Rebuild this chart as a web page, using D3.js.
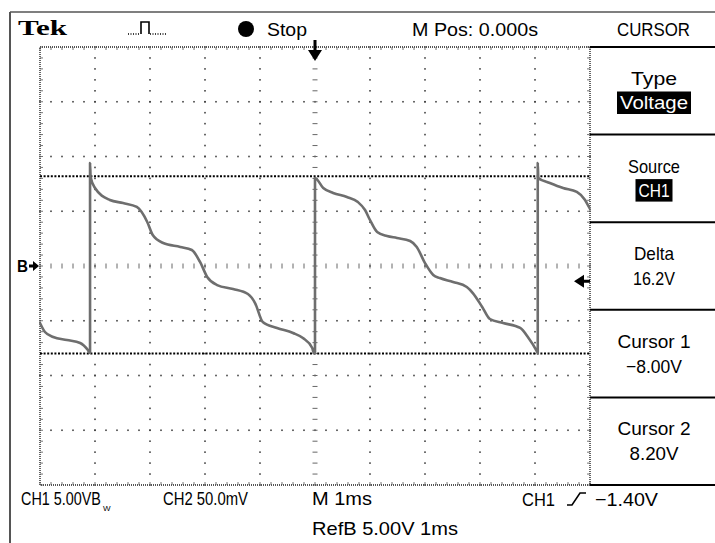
<!DOCTYPE html>
<html>
<head>
<meta charset="utf-8">
<script src="https://cdn.jsdelivr.net/npm/d3@7/dist/d3.min.js"></script>
<style>
  html, body { margin: 0; padding: 0; background: #fff; }
  svg { display: block; }
  text { font-family: "Liberation Sans", Arial, sans-serif; fill: #000; }
</style>
</head>
<body>
<svg id="scope" width="715" height="543"></svg>
<script>
// ---- data ----
// trace of CH1: time in ms (0 = trigger), voltage in V
const traceTime = [-5.00,-4.91,-4.76,-4.51,-4.27,-4.13,-4.09,-4.09,-4.08,-4.00,-3.73,-3.49,-3.24,-3.05,-2.95,-2.76,-2.45,-2.24,-2.09,-1.96,-1.78,-1.49,-1.22,-1.09,-0.95,-0.69,-0.40,-0.22,-0.05,-0.02,0.00,0.00,0.15,0.33,0.58,0.78,0.91,1.00,1.13,1.31,1.49,1.73,1.85,2.00,2.15,2.27,2.51,2.76,2.87,3.04,3.18,3.42,3.73,3.87,4.04,4.05,4.05,4.06,4.27,4.51,4.76,4.91,4.98,5.00];
const traceVolts = [-5.21,-6.03,-6.48,-6.76,-7.03,-7.67,-7.95,9.41,8.13,7.12,6.03,5.75,5.39,4.02,2.83,2.10,1.74,1.46,0.37,-1.00,-1.74,-2.10,-2.56,-3.38,-5.11,-5.66,-6.12,-6.58,-7.49,-7.95,-7.95,8.04,7.12,6.67,6.30,5.84,5.11,4.20,3.11,2.74,2.56,2.28,1.74,0.27,-0.82,-1.10,-1.46,-1.92,-2.47,-3.74,-4.84,-5.21,-5.66,-6.48,-7.85,-7.95,9.41,8.04,7.58,7.12,6.76,6.03,5.39,5.21];
const cursorVolts = [-8.00, 8.20];
const triggerLevel = -1.40;
const timeDomain = [-5, 5];      // 1 ms/div, 10 div
const voltDomain = [-20, 20];    // 5 V/div, 8 div
const menuTitles = ["Type", "Source", "Delta", "Cursor 1", "Cursor 2"];
const menuValues = ["Voltage", "CH1", "16.2V", "\u22128.00V", "8.20V"];
const menuInverse = [true, true, false, false, false];
const topLabels = ["Stop", "M Pos: 0.000s", "CURSOR"];
const bottomLabels = ["CH2 50.0mV", "M 1ms", "CH1", "\u22121.40V", "RefB 5.00V 1ms"];

// ---- layout ----
const svg = d3.select("#scope");
const gx0 = 40, gx1 = 590, gy0 = 47, gy1 = 485;
const x = d3.scaleLinear().domain(timeDomain).range([gx0, gx1]);
const y = d3.scaleLinear().domain(voltDomain).range([gy1, gy0]);
const FS = 18.5;

// frame lines
svg.append("line").attr("x1", 10).attr("x2", 715).attr("y1", 12).attr("y2", 12)
  .attr("stroke", "#000").attr("stroke-width", 1.2);
svg.append("line").attr("x1", 10).attr("x2", 10).attr("y1", 12).attr("y2", 543)
  .attr("stroke", "#555").attr("stroke-width", 2);

// ---- graticule ----
const grid = svg.append("g");
const minorT = d3.range(timeDomain[0], timeDomain[1] + 1e-9, 0.2);
const minorV = d3.range(voltDomain[0], voltDomain[1] + 1e-9, 1);
const majorT = x.ticks(10).filter(t => t !== 0 && t !== timeDomain[0] && t !== timeDomain[1]);
const majorV = d3.range(voltDomain[0], voltDomain[1] + 1e-9, 5).filter(v => v !== 0 && v !== voltDomain[0] && v !== voltDomain[1]);

majorT.forEach(t => {
  grid.selectAll(null).data(minorV).enter().append("rect")
    .attr("x", x(t) - 0.8).attr("y", d => y(d) - 0.8).attr("width", 1.6).attr("height", 1.6)
    .attr("fill", "#444");
});
majorV.forEach(v => {
  grid.selectAll(null).data(minorT).enter().append("rect")
    .attr("x", d => x(d) - 0.8).attr("y", y(v) - 0.8).attr("width", 1.6).attr("height", 1.6)
    .attr("fill", "#444");
});
grid.selectAll(null).data(minorT).enter().append("line")
  .attr("x1", d => x(d)).attr("x2", d => x(d)).attr("y1", y(0) - 2.5).attr("y2", y(0) + 2.5)
  .attr("stroke", "#666").attr("stroke-width", 1);
grid.selectAll(null).data(minorV).enter().append("line")
  .attr("x1", x(0) - 2.5).attr("x2", x(0) + 2.5).attr("y1", d => y(d)).attr("y2", d => y(d))
  .attr("stroke", "#666").attr("stroke-width", 1);
grid.selectAll(null).data(minorT).enter().append("line")
  .attr("x1", d => x(d)).attr("x2", d => x(d)).attr("y1", gy0).attr("y2", gy0 + 3)
  .attr("stroke", "#777").attr("stroke-width", 1);
grid.selectAll(null).data(minorT).enter().append("line")
  .attr("x1", d => x(d)).attr("x2", d => x(d)).attr("y1", gy1).attr("y2", gy1 - 3)
  .attr("stroke", "#777").attr("stroke-width", 1);
grid.selectAll(null).data(minorV).enter().append("line")
  .attr("x1", gx0).attr("x2", gx0 + 3).attr("y1", d => y(d)).attr("y2", d => y(d))
  .attr("stroke", "#777").attr("stroke-width", 1);
grid.selectAll(null).data(minorV).enter().append("line")
  .attr("x1", gx1).attr("x2", gx1 - 3).attr("y1", d => y(d)).attr("y2", d => y(d))
  .attr("stroke", "#777").attr("stroke-width", 1);
grid.append("rect").attr("x", gx0).attr("y", gy0).attr("width", gx1 - gx0).attr("height", gy1 - gy0)
  .attr("fill", "none").attr("stroke", "#555").attr("stroke-width", 1.8).attr("stroke-dasharray", "1,1");

// ---- cursors ----
svg.selectAll(".cursor").data(cursorVolts).enter().append("line").attr("class", "cursor")
  .attr("x1", gx0).attr("x2", gx1).attr("y1", d => y(d)).attr("y2", d => y(d))
  .attr("stroke", "#000").attr("stroke-width", 2).attr("stroke-dasharray", "2,1.6");

// ---- trace ----
const pts = traceTime.map((t, i) => [t, traceVolts[i]]);
svg.append("path").datum(pts)
  .attr("d", d3.line().curve(d3.curveMonotoneX).x(d => x(d[0])).y(d => y(d[1])))
  .attr("fill", "none").attr("stroke", "#6e6e6e").attr("stroke-width", 2.6)
  .attr("stroke-linejoin", "round");

// ---- markers ----
const tx = x(0);
svg.append("path")
  .attr("d", `M${tx - 1.5},40 H${tx + 1.5} V50 H${tx + 7} L${tx},61 L${tx - 7},50 H${tx - 1.5} Z`)
  .attr("fill", "#000");
const ty = y(triggerLevel);
svg.append("path")
  .attr("d", `M574,${ty} L584,${ty - 6.5} V${ty - 1.5} H590 V${ty + 1.5} H584 V${ty + 6.5} Z`)
  .attr("fill", "#000");
const ry = y(0);
svg.append("text").attr("x", 17).attr("y", ry + 6).attr("font-size", 16).attr("font-weight", "bold")
  .attr("textLength", 11).attr("lengthAdjust", "spacingAndGlyphs").text("B");
svg.append("path")
  .attr("d", `M29,${ry - 1.5} H33 V${ry - 5} L39,${ry} L33,${ry + 5} V${ry + 1.5} H29 Z`)
  .attr("fill", "#000");

// ---- top status bar ----
svg.append("text").attr("x", 18).attr("y", 35)
  .style("font-family", "'Liberation Serif', serif").attr("font-weight", "bold").attr("font-size", 21)
  .attr("textLength", 49).attr("lengthAdjust", "spacingAndGlyphs").text("Tek");
svg.append("path").attr("d", "M141,34 V22 H149 V34").attr("fill", "none").attr("stroke", "#000").attr("stroke-width", 1.6);
svg.append("line").attr("x1", 128).attr("x2", 140).attr("y1", 34).attr("y2", 34)
  .attr("stroke", "#000").attr("stroke-width", 1.4).attr("stroke-dasharray", "1,1.5");
svg.append("line").attr("x1", 150).attr("x2", 167).attr("y1", 34).attr("y2", 34)
  .attr("stroke", "#000").attr("stroke-width", 1.4).attr("stroke-dasharray", "1,1.5");
svg.append("circle").attr("cx", 246).attr("cy", 29).attr("r", 8).attr("fill", "#000");
const topX = [267, 412, 617], topW = [40, 126, 73];
topLabels.forEach((s, i) => {
  svg.append("text").attr("x", topX[i]).attr("y", 36).attr("font-size", FS)
    .attr("textLength", topW[i]).attr("lengthAdjust", "spacingAndGlyphs").text(s);
});

// ---- right menu ----
const boxTop = d3.scaleLinear().domain([0, 5]).range([gy0, gy1]);
const menu = svg.append("g");
d3.range(6).forEach(i => {
  menu.append("line").attr("x1", gx1).attr("x2", 715).attr("y1", boxTop(i)).attr("y2", boxTop(i))
    .attr("stroke", "#000").attr("stroke-width", 2);
});
const titleW = [46, 52, 40, 73, 73];
const valueW = [68, 31, 42, 56, 49];
const cx = 654;
menuTitles.forEach((s, i) => {
  const b = boxTop(i);
  menu.append("text").attr("x", cx).attr("y", b + 38).attr("text-anchor", "middle").attr("font-size", FS)
    .attr("textLength", titleW[i]).attr("lengthAdjust", "spacingAndGlyphs").text(s);
  if (menuInverse[i]) {
    menu.append("rect").attr("x", cx - valueW[i] / 2 - 3).attr("y", b + 44.5)
      .attr("width", valueW[i] + 6).attr("height", 22.5).attr("fill", "#000");
  }
  menu.append("text").attr("x", cx).attr("y", b + (menuInverse[i] ? 62 : 63)).attr("text-anchor", "middle")
    .attr("font-size", FS).style("fill", menuInverse[i] ? "#fff" : "#000")
    .attr("textLength", valueW[i]).attr("lengthAdjust", "spacingAndGlyphs").text(menuValues[i]);
});

// ---- bottom status ----
// CH1 scale text, horizontally scaled to its measured width, then the bandwidth-limit subscript
const ch1 = svg.append("text").attr("font-size", FS).text("CH1 5.00VB");
const natW = ch1.node().getComputedTextLength();
ch1.attr("transform", `translate(21,505) scale(${80 / natW},1)`);
svg.append("text").attr("x", 103).attr("y", 511).attr("font-size", 8).text("W");

const botX = [163, 312, 522, 595, 312];
const botY = [505, 505, 506, 506, 535];
const botW = [85, 60, 33, 63, 146];
bottomLabels.forEach((s, i) => {
  svg.append("text").attr("x", botX[i]).attr("y", botY[i]).attr("font-size", FS)
    .attr("textLength", botW[i]).attr("lengthAdjust", "spacingAndGlyphs").text(s);
});
svg.append("path").attr("d", "M567,505 H572 L580,493 H586").attr("fill", "none")
  .attr("stroke", "#000").attr("stroke-width", 1.6);
</script>
</body>
</html>
